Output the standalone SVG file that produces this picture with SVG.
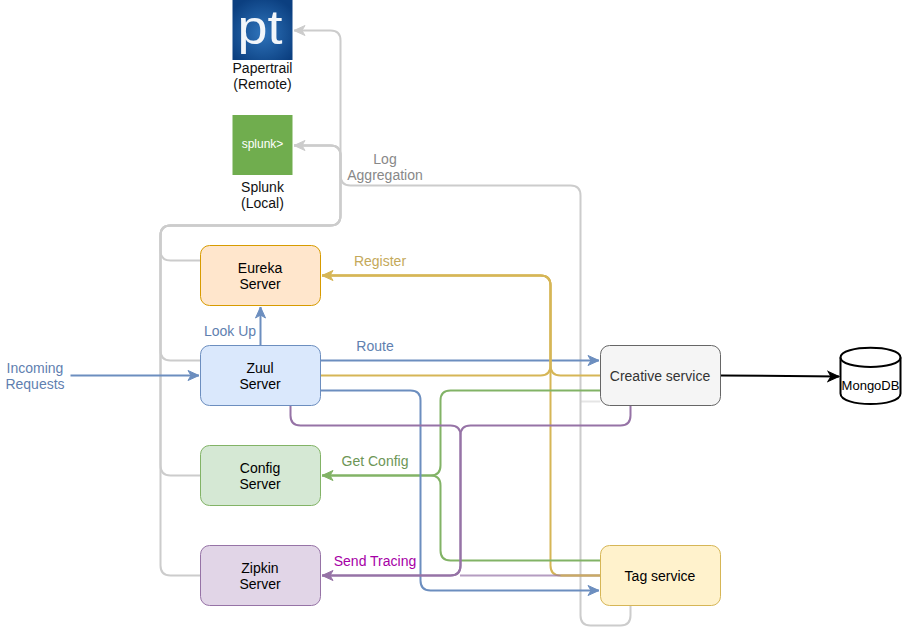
<svg xmlns="http://www.w3.org/2000/svg" width="902" height="635" viewBox="0 0 902 635">
<style>
text{font-family:"Liberation Sans",Arial,sans-serif;font-size:14px;text-anchor:middle}
.n{stroke-width:1}
.c{fill:none;stroke-width:2}
.gy{stroke:#ccc}.gd{stroke:#d6b656}.gr{stroke:#82b366}.pu{stroke:#9673a6}.bl{stroke:#6c8ebf}
</style>
<defs>
<radialGradient id="ptg" cx="50%" cy="55%" r="62%"><stop offset="0" stop-color="#2f74bb"/><stop offset="1" stop-color="#0b3f80"/></radialGradient>
<marker id="agy" markerUnits="userSpaceOnUse" markerWidth="14" markerHeight="14" refX="12" refY="6" viewBox="0 0 14 12" orient="auto"><path d="M1 1L12 6L1 11L4 6Z" fill="#ccc" stroke="#ccc"/></marker>
<marker id="agd" markerUnits="userSpaceOnUse" markerWidth="14" markerHeight="14" refX="12" refY="6" viewBox="0 0 14 12" orient="auto"><path d="M1 1L12 6L1 11L4 6Z" fill="#d6b656" stroke="#d6b656"/></marker>
<marker id="agr" markerUnits="userSpaceOnUse" markerWidth="14" markerHeight="14" refX="12" refY="6" viewBox="0 0 14 12" orient="auto"><path d="M1 1L12 6L1 11L4 6Z" fill="#82b366" stroke="#82b366"/></marker>
<marker id="apu" markerUnits="userSpaceOnUse" markerWidth="14" markerHeight="14" refX="12" refY="6" viewBox="0 0 14 12" orient="auto"><path d="M1 1L12 6L1 11L4 6Z" fill="#9673a6" stroke="#9673a6"/></marker>
<marker id="abl" markerUnits="userSpaceOnUse" markerWidth="14" markerHeight="14" refX="12" refY="6" viewBox="0 0 14 12" orient="auto"><path d="M1 1L12 6L1 11L4 6Z" fill="#6c8ebf" stroke="#6c8ebf"/></marker>
<marker id="abk" markerUnits="userSpaceOnUse" markerWidth="14" markerHeight="14" refX="12" refY="6" viewBox="0 0 14 12" orient="auto"><path d="M1 1L12 6L1 11L4 6Z" fill="#000" stroke="#000"/></marker>
</defs>
<g id="connectors">
<g class="c gy">
<path d="M200.500 575.500H170.500Q160.500 575.500 160.500 565.500V235.500Q160.500 225.500 170.500 225.500H330.500Q340.500 225.500 340.500 215.500V40.500Q340.500 30.500 330.500 30.500H294" marker-end="url(#agy)"/>
<path d="M200.500 475.500H170.500Q160.500 475.500 160.500 465.500V235.500Q160.500 225.500 170.500 225.500H330.500Q340.500 225.500 340.500 215.500V155.500Q340.500 145.500 330.500 145.500H294" marker-end="url(#agy)"/>
<path d="M200.500 360.500H170.500Q160.500 360.500 160.500 350.500V235.500Q160.500 225.500 170.500 225.500H330.500Q340.500 225.500 340.500 215.500V155.500Q340.500 145.500 330.500 145.500H294"/>
<path d="M200.500 260.500H170.500Q160.500 260.500 160.500 250.500V235.500Q160.500 225.500 170.500 225.500H330.500"/>
<path d="M630.500 605.500V615.500Q630.500 625.500 620.500 625.500H590.500Q580.500 625.500 580.500 615.500V195.500Q580.500 185.500 570.500 185.500H350.500Q340.500 185.500 340.500 175.500V155.500Q340.500 145.500 330.500 145.500H294"/>
<path d="M600.500 401.500H580.500" stroke-opacity=".5"/>
</g>
<g class="c bl">
<path d="M320.500 360.500H599" marker-end="url(#abl)"/>
</g>
<g class="c gd">
<path d="M320.500 375.500H540.500Q550.500 375.500 550.500 365.500V285.500Q550.500 275.500 540.500 275.500H322" marker-end="url(#agd)"/>
<path d="M600.500 375.500H560.500Q550.500 375.500 550.500 365.500V285.500Q550.500 275.500 540.500 275.500H322"/>
<path d="M600.500 575.500H560.500Q550.500 575.500 550.500 565.500V285.500Q550.500 275.500 540.500 275.500H322"/>
</g>
<g class="c gr">
<path d="M600.500 390.500H450.500Q440.500 390.500 440.500 400.500V465.500Q440.500 475.500 430.500 475.500H322" marker-end="url(#agr)"/>
<path d="M600.500 560.500H450.500Q440.500 560.500 440.500 550.500V485.500Q440.500 475.500 430.500 475.500H322"/>
</g>
<g class="c bl">
<path d="M320.500 390.500H410.500Q420.500 390.500 420.500 400.500V580.500Q420.500 590.500 430.500 590.500H599" marker-end="url(#abl)"/>
<path d="M260.500 345.500V307" marker-end="url(#abl)"/>
<path d="M70.500 375.500H199" marker-end="url(#abl)"/>
</g>
<g class="c pu">
<path d="M290.500 405.500V415.500Q290.500 425.500 300.500 425.500H450.500Q460.500 425.500 460.500 435.500V565.500Q460.500 575.500 450.500 575.500H322" marker-end="url(#apu)"/>
<path d="M630.500 405.500V415.500Q630.500 425.500 620.500 425.500H470.500Q460.500 425.500 460.500 435.500V565.500Q460.500 575.500 450.500 575.500H322"/>
<path d="M600.500 575.500H460" stroke-opacity=".7"/>
</g>
<path class="c" stroke="#d6b656" stroke-opacity=".75" d="M600.500 575.500H560.500"/>
<path class="c" stroke="#000" d="M720.500 375.500L839 376.500" marker-end="url(#abk)"/>
</g>
<g id="papertrail">
<rect x="232.500" y="0" width="60" height="60" fill="url(#ptg)"/>
<text x="260" y="43.500" fill="#f2f6fa" textLength="45" lengthAdjust="spacingAndGlyphs" style="font-size:48px">pt</text>
<text x="262.500" y="73" fill="#111">Papertrail</text>
<text x="262.500" y="89" fill="#111">(Remote)</text>
</g>
<g id="splunk">
<rect x="232.500" y="115" width="60" height="60" fill="#70ad4e"/>
<text x="262.500" y="148" fill="#fff" style="font-size:12px">splunk&gt;</text>
<text x="262.500" y="192" fill="#111">Splunk</text>
<text x="262.500" y="208" fill="#111">(Local)</text>
</g>
<g id="eureka"><rect class="n" x="200.500" y="245.500" width="120" height="60" rx="9" fill="#ffe6cc" stroke="#d79b00"/><text x="260" y="273">Eureka</text><text x="260" y="289">Server</text></g>
<g id="zuul"><rect class="n" x="200.500" y="345.500" width="120" height="60" rx="9" fill="#dae8fc" stroke="#6c8ebf"/><text x="260" y="373">Zuul</text><text x="260" y="389">Server</text></g>
<g id="config"><rect class="n" x="200.500" y="445.500" width="120" height="60" rx="9" fill="#d5e8d4" stroke="#82b366"/><text x="260" y="473">Config</text><text x="260" y="489">Server</text></g>
<g id="zipkin"><rect class="n" x="200.500" y="545.500" width="120" height="60" rx="9" fill="#e1d5e7" stroke="#9673a6"/><text x="260" y="573">Zipkin</text><text x="260" y="589">Server</text></g>
<g id="creative"><rect class="n" x="600.500" y="345.500" width="120" height="60" rx="9" fill="#f5f5f5" stroke="#666"/><text x="660" y="381" fill="#333">Creative service</text></g>
<g id="tag"><rect class="n" x="600.500" y="545.500" width="120" height="60" rx="9" fill="#fff2cc" stroke="#d6b656"/><text x="660" y="581">Tag service</text></g>
<g id="mongodb">
<path d="M840.500 357.500C840.500 344.500 900.500 344.500 900.500 357.500V393.500C900.500 407.500 840.500 407.500 840.500 393.500Z" fill="#fff" stroke="#000" stroke-width="2"/>
<path d="M840.500 357.500C840.500 370 900.500 370 900.500 357.500" fill="none" stroke="#000" stroke-width="2"/>
<text x="870.500" y="389.500" style="font-size:13px">MongoDB</text>
</g>
<g id="labels">
<text x="35" y="373" fill="#5f7fb0">Incoming</text>
<text x="35" y="389" fill="#5f7fb0">Requests</text>
<text x="230" y="336" fill="#5f7fb0">Look Up</text>
<text x="375" y="351" fill="#5f7fb0">Route</text>
<text x="380" y="266" fill="#c4a95a">Register</text>
<text x="375" y="466" fill="#6d9656">Get Config</text>
<text x="375" y="566" fill="#a600a6">Send Tracing</text>
<text x="385" y="164" fill="#888">Log</text>
<text x="385" y="180" fill="#888">Aggregation</text>
</g>
</svg>
